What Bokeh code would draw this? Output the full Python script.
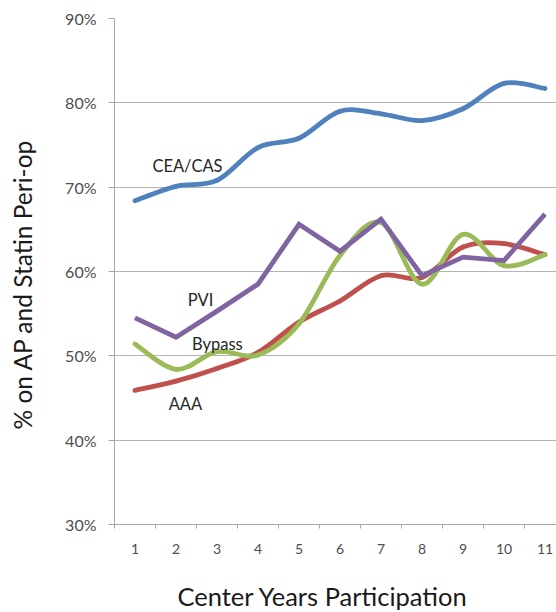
from bokeh.plotting import figure
from bokeh.models import FixedTicker, PrintfTickFormatter, Range1d, Label, ColumnDataSource, Title
from bokeh.embed import file_html
from bokeh.resources import INLINE

years = [1, 2, 3, 4, 5, 6, 7, 8, 9, 10, 11]
cea_cas = [68.4, 70.1, 70.8, 74.7, 75.8, 79.0, 78.7, 77.9, 79.3, 82.3, 81.7]
aaa = [45.9, 47.0, 48.5, 50.4, 54.0, 56.5, 59.5, 59.3, 62.9, 63.3, 62.0]
bypass = [51.4, 48.4, 50.5, 50.1, 53.8, 61.9, 65.8, 58.5, 64.4, 60.7, 62.0]
pvi = [54.5, 52.2, 55.3, 58.5, 65.6, 62.4, 66.2, 59.5, 61.7, 61.3, 66.8]
y_ticks = [30, 40, 50, 60, 70, 80, 90]
x_bounds = [0.5, 1.5, 2.5, 3.5, 4.5, 5.5, 6.5, 7.5, 8.5, 9.5, 10.5]
y_title = "% on AP and Statin Peri-op"
x_title = "Center Years Participation"

FONT = "Lato"

p = figure(width=556, height=612, output_backend="svg", toolbar_location=None,
           x_range=Range1d(0.5, 11.28), y_range=Range1d(30, 90),
           min_border_left=114, min_border_right=0, min_border_top=18,
           min_border_bottom=88)
p.outline_line_color = None
p.background_fill_color = "white"
p.border_fill_color = "white"


def smooth_segments(xs, ys):
    """Excel-style smoothed line: cubic Bezier control points from neighbours."""
    n = len(xs)
    seg = dict(x0=[], y0=[], x1=[], y1=[], cx0=[], cy0=[], cx1=[], cy1=[])
    for i in range(n - 1):
        im1 = max(i - 1, 0)
        ip2 = min(i + 2, n - 1)
        seg["x0"].append(xs[i]); seg["y0"].append(ys[i])
        seg["x1"].append(xs[i + 1]); seg["y1"].append(ys[i + 1])
        seg["cx0"].append(xs[i] + (xs[i + 1] - xs[im1]) / 6.0)
        seg["cy0"].append(ys[i] + (ys[i + 1] - ys[im1]) / 6.0)
        seg["cx1"].append(xs[i + 1] - (xs[ip2] - xs[i]) / 6.0)
        seg["cy1"].append(ys[i + 1] - (ys[ip2] - ys[i]) / 6.0)
    return ColumnDataSource(seg)


LW = 4.8
for series, color in [(aaa, "#C0504D"), (bypass, "#9BBB59"), (cea_cas, "#4F81BD")]:
    p.bezier(x0="x0", y0="y0", x1="x1", y1="y1", cx0="cx0", cy0="cy0",
             cx1="cx1", cy1="cy1", source=smooth_segments(years, series),
             line_color=color, line_width=LW, line_cap="round")
p.line(years, pvi, line_color="#8064A2", line_width=LW, line_join="miter")

# series labels
for txt, x, y in [("CEA/CAS", 2.28, 72.55), ("PVI", 2.6, 56.65),
                  ("Bypass", 3.01, 51.4), ("AAA", 2.23, 44.3)]:
    p.add_layout(Label(x=x, y=y, text=txt, text_align="center", text_baseline="middle",
                       text_font=FONT, text_font_size="16.5px", text_color="#262626"))

# spacers between axes and axis titles, then the titles themselves
p.add_layout(Title(text=" ", text_font_size="1px", standoff=22), "left")
p.add_layout(Title(text=y_title, align="left", offset=95, standoff=2,
                   vertical_align="bottom",
                   text_font=FONT, text_font_size="24.5px", text_font_style="normal",
                   text_color="#1a1a1a"), "left")
p.add_layout(Title(text=" ", text_font_size="1px", standoff=18), "below")
p.add_layout(Title(text=x_title, align="left", offset=63, standoff=2,
                   vertical_align="bottom",
                   text_font=FONT, text_font_size="25.5px", text_font_style="normal",
                   text_color="#1a1a1a"), "below")

# y axis
p.yaxis.ticker = FixedTicker(ticks=y_ticks)
p.yaxis.formatter = PrintfTickFormatter(format="%d%%")
p.yaxis.major_label_text_font = FONT
p.yaxis.major_label_text_font_size = "16px"
p.yaxis.major_label_text_color = "#4d4d4d"
p.yaxis.major_label_standoff = 12
p.yaxis.major_tick_out = 6
p.yaxis.major_tick_in = 0
p.yaxis.minor_tick_line_color = None
p.yaxis.axis_line_color = "#A6A6A6"
p.yaxis.major_tick_line_color = "#A6A6A6"

# x axis: labels at category centres, tick marks at category boundaries
p.xaxis.ticker = FixedTicker(ticks=years, minor_ticks=x_bounds)
p.xaxis.major_tick_out = 0
p.xaxis.major_tick_in = 0
p.xaxis.minor_tick_out = 4
p.xaxis.minor_tick_in = 0
p.xaxis.minor_tick_line_color = "#A6A6A6"
p.xaxis.axis_line_color = "#A6A6A6"
p.xaxis.major_label_text_font = FONT
p.xaxis.major_label_text_font_size = "14px"
p.xaxis.major_label_text_color = "#4d4d4d"
p.xaxis.major_label_standoff = 15

p.xgrid.grid_line_color = None
p.ygrid.ticker = FixedTicker(ticks=y_ticks)
p.ygrid.grid_line_color = "#B3B3B3"
p.ygrid.grid_line_width = 1

open("out.html", "w").write(file_html(p, INLINE))
